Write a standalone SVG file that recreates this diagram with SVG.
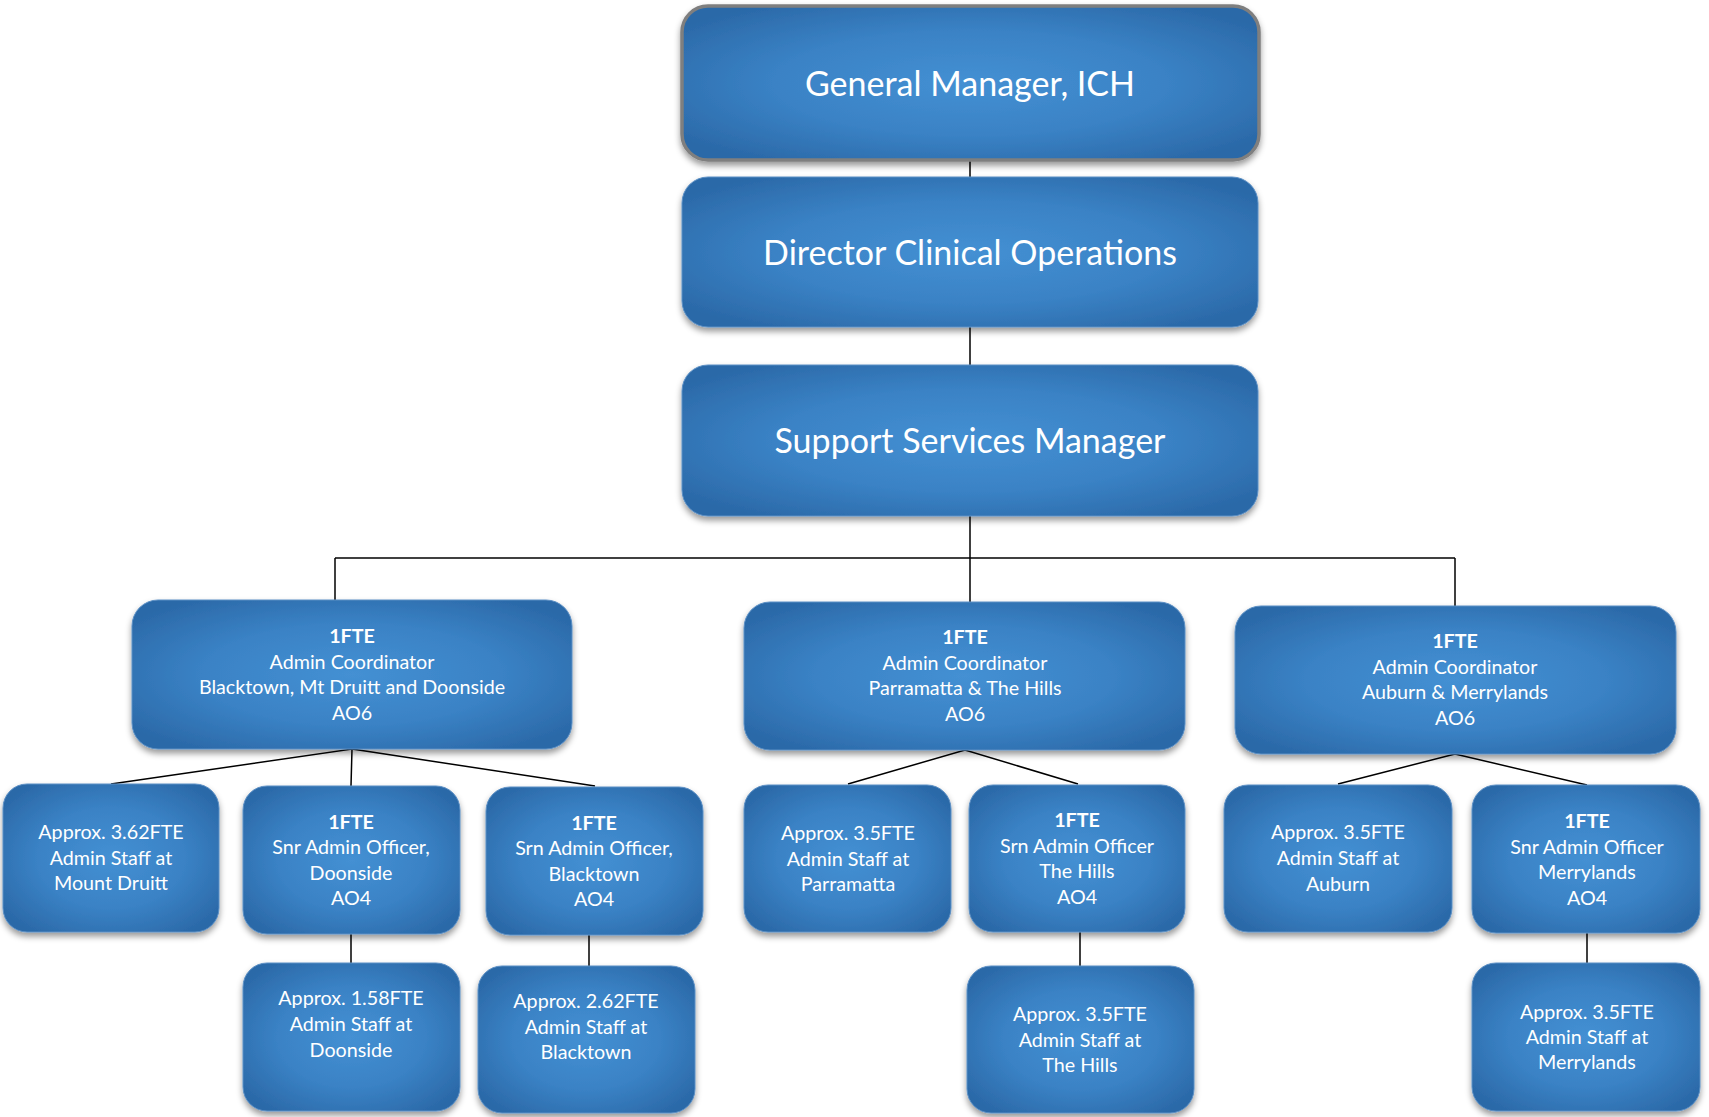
<svg xmlns="http://www.w3.org/2000/svg" width="1709" height="1117" viewBox="0 0 1709 1117">
<defs>
<radialGradient id="g" cx="0.5" cy="0.5" r="0.62">
<stop offset="0" stop-color="#4490D3"/>
<stop offset="0.55" stop-color="#3A82C5"/>
<stop offset="1" stop-color="#2B69A8"/>
</radialGradient>
<filter id="sh" x="-10%" y="-10%" width="120%" height="130%">
<feDropShadow dx="0" dy="4" stdDeviation="3" flood-color="#000" flood-opacity="0.4"/>
</filter>
<style>
.b{fill:url(#g);stroke:#5b8fc4;stroke-width:1;filter:url(#sh)}
.gm{stroke:#7f7f7f;stroke-width:3.5}
.t{fill:#fff;font-family:Lato,"Open Sans","Liberation Sans",sans-serif;text-anchor:middle;dominant-baseline:central}
.L{font-size:34px}
.s{font-size:19.7px}
.bold{font-weight:bold}
.c{stroke:#000;stroke-width:1.5;fill:none}
</style>
</defs>
<g id="connectors">
<line class="c" x1="970" y1="160" x2="970" y2="177"/>
<line class="c" x1="970" y1="327" x2="970" y2="365"/>
<line class="c" x1="970" y1="516" x2="970" y2="602"/>
<line class="c" x1="335" y1="558" x2="1455" y2="558"/>
<line class="c" x1="335" y1="558" x2="335" y2="600"/>
<line class="c" x1="1455" y1="558" x2="1455" y2="606"/>
<polyline class="c" points="111,784 352,749 351,786"/>
<line class="c" x1="352" y1="749" x2="595" y2="786"/>
<polyline class="c" points="848,784 965,750 1078,784"/>
<polyline class="c" points="1338,784 1455,754 1587,785"/>
<line class="c" x1="351" y1="934" x2="351" y2="963"/>
<line class="c" x1="589" y1="935" x2="589" y2="966"/>
<line class="c" x1="1080" y1="932" x2="1080" y2="966"/>
<line class="c" x1="1587" y1="933" x2="1587" y2="963"/>
</g>
<g id="gm">
<rect class="b gm" x="682" y="6" width="577" height="154" rx="26"/>
<text class="t L" x="970" y="82">General Manager, ICH</text>
</g>
<g id="dco">
<rect class="b" x="682" y="177" width="576" height="150" rx="26"/>
<text class="t L" x="970" y="251">Director Clinical Operations</text>
</g>
<g id="ssm">
<rect class="b" x="682" y="365" width="576" height="151" rx="26"/>
<text class="t L" x="970" y="439">Support Services Manager</text>
</g>
<g id="coord-blacktown">
<rect class="b" x="132" y="600" width="440" height="149" rx="26"/>
<text class="t s bold" x="352" y="635">1FTE</text>
<text class="t s" x="352" y="661">Admin Coordinator</text>
<text class="t s" x="352" y="686">Blacktown, Mt Druitt and Doonside</text>
<text class="t s" x="352" y="712">AO6</text>
</g>
<g id="coord-parramatta">
<rect class="b" x="744" y="602" width="441" height="148" rx="26"/>
<text class="t s bold" x="965" y="636">1FTE</text>
<text class="t s" x="965" y="662">Admin Coordinator</text>
<text class="t s" x="965" y="687">Parramatta &amp; The Hills</text>
<text class="t s" x="965" y="713">AO6</text>
</g>
<g id="coord-auburn">
<rect class="b" x="1235" y="606" width="441" height="148" rx="26"/>
<text class="t s bold" x="1455" y="640">1FTE</text>
<text class="t s" x="1455" y="666">Admin Coordinator</text>
<text class="t s" x="1455" y="691">Auburn &amp; Merrylands</text>
<text class="t s" x="1455" y="717">AO6</text>
</g>
<g id="staff-mtdruitt">
<rect class="b" x="3" y="784" width="216" height="148" rx="24"/>
<text class="t s" x="111" y="831">Approx. 3.62FTE</text>
<text class="t s" x="111" y="857">Admin Staff at</text>
<text class="t s" x="111" y="882">Mount Druitt</text>
</g>
<g id="snr-doonside">
<rect class="b" x="243" y="786" width="217" height="148" rx="24"/>
<text class="t s bold" x="351" y="821">1FTE</text>
<text class="t s" x="351" y="846">Snr Admin Officer,</text>
<text class="t s" x="351" y="872">Doonside</text>
<text class="t s" x="351" y="897">AO4</text>
</g>
<g id="srn-blacktown">
<rect class="b" x="486" y="787" width="217" height="148" rx="24"/>
<text class="t s bold" x="594" y="822">1FTE</text>
<text class="t s" x="594" y="847">Srn Admin Officer,</text>
<text class="t s" x="594" y="873">Blacktown</text>
<text class="t s" x="594" y="898">AO4</text>
</g>
<g id="staff-parramatta">
<rect class="b" x="744" y="785" width="207" height="147" rx="24"/>
<text class="t s" x="848" y="832">Approx. 3.5FTE</text>
<text class="t s" x="848" y="858">Admin Staff at</text>
<text class="t s" x="848" y="883">Parramatta</text>
</g>
<g id="srn-thehills">
<rect class="b" x="969" y="785" width="216" height="147" rx="24"/>
<text class="t s bold" x="1077" y="819">1FTE</text>
<text class="t s" x="1077" y="845">Srn Admin Officer</text>
<text class="t s" x="1077" y="870">The Hills</text>
<text class="t s" x="1077" y="896">AO4</text>
</g>
<g id="staff-auburn">
<rect class="b" x="1224" y="785" width="228" height="147" rx="24"/>
<text class="t s" x="1338" y="831">Approx. 3.5FTE</text>
<text class="t s" x="1338" y="857">Admin Staff at</text>
<text class="t s" x="1338" y="883">Auburn</text>
</g>
<g id="snr-merrylands">
<rect class="b" x="1472" y="785" width="228" height="148" rx="24"/>
<text class="t s bold" x="1587" y="820">1FTE</text>
<text class="t s" x="1587" y="846">Snr Admin Officer</text>
<text class="t s" x="1587" y="871">Merrylands</text>
<text class="t s" x="1587" y="897">AO4</text>
</g>
<g id="staff-doonside">
<rect class="b" x="243" y="963" width="217" height="148" rx="24"/>
<text class="t s" x="351" y="997">Approx. 1.58FTE</text>
<text class="t s" x="351" y="1023">Admin Staff at</text>
<text class="t s" x="351" y="1049">Doonside</text>
</g>
<g id="staff-blacktown">
<rect class="b" x="478" y="966" width="217" height="147" rx="24"/>
<text class="t s" x="586" y="1000">Approx. 2.62FTE</text>
<text class="t s" x="586" y="1026">Admin Staff at</text>
<text class="t s" x="586" y="1051">Blacktown</text>
</g>
<g id="staff-thehills">
<rect class="b" x="967" y="966" width="227" height="147" rx="24"/>
<text class="t s" x="1080" y="1013">Approx. 3.5FTE</text>
<text class="t s" x="1080" y="1039">Admin Staff at</text>
<text class="t s" x="1080" y="1064">The Hills</text>
</g>
<g id="staff-merrylands">
<rect class="b" x="1472" y="963" width="228" height="148" rx="24"/>
<text class="t s" x="1587" y="1011">Approx. 3.5FTE</text>
<text class="t s" x="1587" y="1036">Admin Staff at</text>
<text class="t s" x="1587" y="1061">Merrylands</text>
</g>
</svg>
